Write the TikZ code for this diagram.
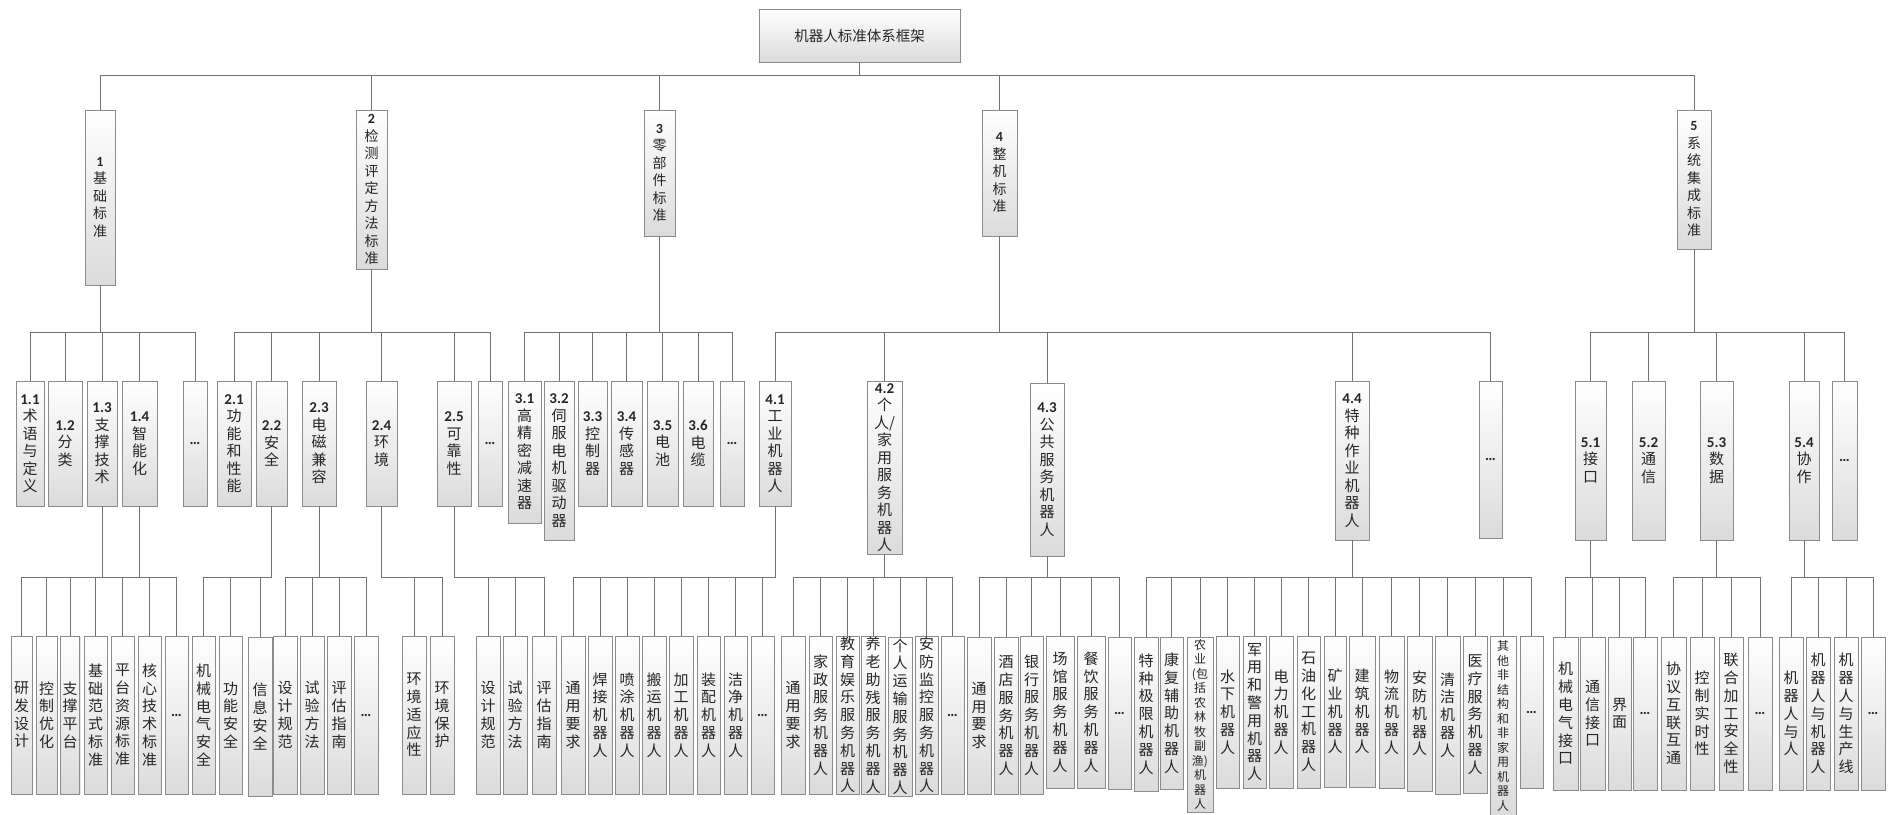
\documentclass[tikz,border=0pt]{standalone}
\usepackage{fontspec}
\setmainfont{Noto Sans CJK SC}
\newfontfamily\numfont{Carlito}
\newcommand{\nb}[1]{{\numfont\bfseries #1}}
\usetikzlibrary{shadows}

\begin{document}
\begin{tikzpicture}[x=1pt,y=-1pt]%
\useasboundingbox (0,0) rectangle (1890,814);
\tikzstyle{box}=[draw=black!45,line width=.8pt,top color=white,bottom color=black!14,inner sep=0pt,align=center,text=black!85,drop shadow={shadow xshift=1pt,shadow yshift=-1pt,opacity=.2}]
\tikzstyle{lvla}=[box,font=\fontsize{14}{17.5}\selectfont]
\tikzstyle{lvlb}=[box,minimum height=125,font=\fontsize{15}{17.5}\selectfont]
\tikzstyle{leaf}=[box,minimum width=23,minimum height=158,font=\fontsize{15}{17.8}\selectfont]
\tikzstyle{link}=[draw=black!55,line width=1pt]
% root
\node[box,minimum width=201,minimum height=53,font=\fontsize{14.5}{17}\selectfont] (root) at (859.5,35.5) {机器人标准体系框架}; %%
% level 1
\node[lvla,minimum width=30,minimum height=175] (n1) at (100,197.5) {\nb{1}\\基\\础\\标\\准}; %%
\node[lvla,minimum width=31,minimum height=159] (n2) at (371.5,189.5) {\nb{2}\\检\\测\\评\\定\\方\\法\\标\\准}; %%
\node[lvla,minimum width=31,minimum height=126] (n3) at (659.5,173) {\nb{3}\\零\\部\\件\\标\\准}; %%
\node[lvla,minimum width=35,minimum height=126] (n4) at (999.5,173) {\nb{4}\\整\\机\\标\\准}; %%
\node[lvla,minimum width=34,minimum height=139] (n5) at (1694,179.5) {\nb{5}\\系\\统\\集\\成\\标\\准}; %%
% level 2
\node[lvlb,minimum width=28] (n11) at (30,443.5) {\nb{1.1}\\术\\语\\与\\定\\义}; %%
\node[lvlb,minimum width=34] (n12) at (65,443.5) {\nb{1.2}\\分\\类}; %%
\node[lvlb,minimum width=30] (n13) at (102,443.5) {\nb{1.3}\\支\\撑\\技\\术}; %%
\node[lvlb,minimum width=35] (n14) at (139.5,443.5) {\nb{1.4}\\智\\能\\化}; %%
\node[lvlb,minimum width=24] (n15) at (195,443.5) {\nb{…}}; %%
\node[lvlb,minimum width=34] (n21) at (234,443.5) {\nb{2.1}\\功\\能\\和\\性\\能}; %%
\node[lvlb,minimum width=31] (n22) at (271.5,443.5) {\nb{2.2}\\安\\全}; %%
\node[lvlb,minimum width=34] (n23) at (319,443.5) {\nb{2.3}\\电\\磁\\兼\\容}; %%
\node[lvlb,minimum width=31] (n24) at (381.5,443.5) {\nb{2.4}\\环\\境}; %%
\node[lvlb,minimum width=34] (n25) at (454,443.5) {\nb{2.5}\\可\\靠\\性}; %%
\node[lvlb,minimum width=24] (n26) at (490,443.5) {\nb{…}}; %%
\node[lvlb,minimum width=33,minimum height=142] (n31) at (524.5,452) {\nb{3.1}\\高\\精\\密\\减\\速\\器}; %%
\node[lvlb,minimum width=30,minimum height=159] (n32) at (559,460.5) {\nb{3.2}\\伺\\服\\电\\机\\驱\\动\\器}; %%
\node[lvlb,minimum width=29] (n33) at (592.5,443.5) {\nb{3.3}\\控\\制\\器}; %%
\node[lvlb,minimum width=31] (n34) at (626.5,443.5) {\nb{3.4}\\传\\感\\器}; %%
\node[lvlb,minimum width=31] (n35) at (662.5,443.5) {\nb{3.5}\\电\\池}; %%
\node[lvlb,minimum width=30] (n36) at (698,443.5) {\nb{3.6}\\电\\缆}; %%
\node[lvlb,minimum width=24] (n37) at (732,443.5) {\nb{…}}; %%
\node[lvlb,minimum width=32] (n41) at (775,443.5) {\nb{4.1}\\工\\业\\机\\器\\人}; %%
\node[lvlb,minimum width=35,minimum height=173] (n42) at (884.5,467.5) {\nb{4.2}\\个\\人/\\家\\用\\服\\务\\机\\器\\人}; %%
\node[lvlb,minimum width=34,minimum height=173] (n43) at (1047,469.5) {\nb{4.3}\\公\\共\\服\\务\\机\\器\\人}; %%
\node[lvlb,minimum width=34,minimum height=159] (n44) at (1352,460.5) {\nb{4.4}\\特\\种\\作\\业\\机\\器\\人}; %%
\node[lvlb,minimum width=23,minimum height=157] (n45) at (1490.5,459.5) {\nb{…}}; %%
\node[lvlb,minimum width=31,minimum height=159] (n51) at (1590.5,460.5) {\nb{5.1}\\接\\口}; %%
\node[lvlb,minimum width=33,minimum height=159] (n52) at (1648.5,460.5) {\nb{5.2}\\通\\信}; %%
\node[lvlb,minimum width=33,minimum height=159] (n53) at (1716.5,460.5) {\nb{5.3}\\数\\据}; %%
\node[lvlb,minimum width=30,minimum height=159] (n54) at (1804,460.5) {\nb{5.4}\\协\\作}; %%
\node[lvlb,minimum width=25,minimum height=159] (n55) at (1844.5,460.5) {\nb{…}}; %%
% level 3
\node[leaf,minimum width=21] (l131) at (21.5,715) {研\\发\\设\\计}; %%
\node[leaf,minimum width=21] (l132) at (46.5,715) {控\\制\\优\\化}; %%
\node[leaf,minimum width=19] (l133) at (70,715) {支\\撑\\平\\台}; %%
\node[leaf] (l141) at (95.5,715) {基\\础\\范\\式\\标\\准}; %%
\node[leaf] (l142) at (122.5,715) {平\\台\\资\\源\\标\\准}; %%
\node[leaf] (l143) at (149.5,715) {核\\心\\技\\术\\标\\准}; %%
\node[leaf] (l144) at (176.5,715) {\nb{…}}; %%
\node[leaf] (l221) at (203.5,715) {机\\械\\电\\气\\安\\全}; %%
\node[leaf] (l222) at (230.5,715) {功\\能\\安\\全}; %%
\node[leaf,minimum width=24,minimum height=159] (l223) at (260,716.5) {信\\息\\安\\全}; %%
\node[leaf,minimum width=24] (l231) at (285,715) {设\\计\\规\\范}; %%
\node[leaf,minimum width=24] (l232) at (312,715) {试\\验\\方\\法}; %%
\node[leaf,minimum width=24] (l233) at (339,715) {评\\估\\指\\南}; %%
\node[leaf,minimum width=24] (l234) at (366,715) {\nb{…}}; %%
\node[leaf,minimum width=24] (l241) at (414,715) {环\\境\\适\\应\\性}; %%
\node[leaf,minimum width=24] (l242) at (442,715) {环\\境\\保\\护}; %%
\node[leaf,minimum width=24] (l251) at (488,715) {设\\计\\规\\范}; %%
\node[leaf,minimum width=24] (l252) at (515,715) {试\\验\\方\\法}; %%
\node[leaf,minimum width=24] (l253) at (544,715) {评\\估\\指\\南}; %%
\node[leaf,minimum width=24] (l411) at (573,715) {通\\用\\要\\求}; %%
\node[leaf,minimum width=24] (l412) at (600,715) {焊\\接\\机\\器\\人}; %%
\node[leaf,minimum width=24] (l413) at (627,715) {喷\\涂\\机\\器\\人}; %%
\node[leaf,minimum width=24] (l414) at (654,715) {搬\\运\\机\\器\\人}; %%
\node[leaf,minimum width=24] (l415) at (681,715) {加\\工\\机\\器\\人}; %%
\node[leaf] (l416) at (708.5,715) {装\\配\\机\\器\\人}; %%
\node[leaf] (l417) at (735.5,715) {洁\\净\\机\\器\\人}; %%
\node[leaf] (l418) at (762.5,715) {\nb{…}}; %%
\node[leaf,minimum width=24] (l421) at (793,715) {通\\用\\要\\求}; %%
\node[leaf] (l422) at (820.5,715) {家\\政\\服\\务\\机\\器\\人}; %%
\node[leaf] (l423) at (847.5,715) {教\\育\\娱\\乐\\服\\务\\机\\器\\人}; %%
\node[leaf,minimum width=24] (l424) at (873,715) {养\\老\\助\\残\\服\\务\\机\\器\\人}; %%
\node[leaf,minimum width=24,minimum height=159] (l425) at (900,716.5) {个\\人\\运\\输\\服\\务\\机\\器\\人}; %%
\node[leaf] (l426) at (926.5,715) {安\\防\\监\\控\\服\\务\\机\\器\\人}; %%
\node[leaf] (l427) at (952.5,715) {\nb{…}}; %%
\node[leaf,minimum width=24,minimum height=157] (l431) at (979,715.5) {通\\用\\要\\求}; %%
\node[leaf,minimum width=24,minimum height=157] (l432) at (1006,715.5) {酒\\店\\服\\务\\机\\器\\人}; %%
\node[leaf] (l433) at (1031.5,715) {银\\行\\服\\务\\机\\器\\人}; %%
\node[leaf,minimum width=28,minimum height=152] (l434) at (1060,712) {场\\馆\\服\\务\\机\\器\\人}; %%
\node[leaf,minimum width=28,minimum height=152] (l435) at (1091,712) {餐\\饮\\服\\务\\机\\器\\人}; %%
\node[leaf,minimum height=152] (l436) at (1119.5,713) {\nb{…}}; %%
\node[leaf,minimum width=24,minimum height=154] (l441) at (1146,714) {特\\种\\极\\限\\机\\器\\人}; %%
\node[leaf,minimum height=152] (l442) at (1171.5,713) {康\\复\\辅\\助\\机\\器\\人}; %%
\node[leaf,minimum width=26,minimum height=175,font=\fontsize{12}{14.5}\selectfont] (l443) at (1200,724.5) {农\\业\\(包\\括\\农\\林\\牧\\副\\渔)\\机\\器\\人}; %%
\node[leaf,minimum height=152] (l444) at (1227.5,712) {水\\下\\机\\器\\人}; %%
\node[leaf,minimum height=152] (l445) at (1254.5,712) {军\\用\\和\\警\\用\\机\\器\\人}; %%
\node[leaf,minimum width=24,minimum height=152] (l446) at (1281,712) {电\\力\\机\\器\\人}; %%
\node[leaf,minimum height=152] (l447) at (1308.5,712) {石\\油\\化\\工\\机\\器\\人}; %%
\node[leaf,minimum width=22,minimum height=151] (l448) at (1335,711.5) {矿\\业\\机\\器\\人}; %%
\node[leaf,minimum width=26,minimum height=151] (l449) at (1362,711.5) {建\\筑\\机\\器\\人}; %%
\node[leaf,minimum width=25,minimum height=152] (l4410) at (1391.5,712) {物\\流\\机\\器\\人}; %%
\node[leaf,minimum width=25,minimum height=155] (l4411) at (1419.5,713.5) {安\\防\\机\\器\\人}; %%
\node[leaf,minimum width=25] (l4412) at (1447.5,715) {清\\洁\\机\\器\\人}; %%
\node[leaf,minimum width=24,minimum height=157] (l4413) at (1475,714.5) {医\\疗\\服\\务\\机\\器\\人}; %%
\node[leaf,minimum width=26,minimum height=180,font=\fontsize{12}{14.5}\selectfont] (l4414) at (1503,726) {其\\他\\非\\结\\构\\和\\非\\家\\用\\机\\器\\人}; %%
\node[leaf,minimum height=152] (l4415) at (1531.5,712) {\nb{…}}; %%
\node[leaf,minimum width=25,minimum height=153] (l511) at (1565.5,713.5) {机\\械\\电\\气\\接\\口}; %%
\node[leaf,minimum width=25,minimum height=153] (l512) at (1592.5,713.5) {通\\信\\接\\口}; %%
\node[leaf,minimum height=153] (l513) at (1619.5,713.5) {界\\面}; %%
\node[leaf,minimum width=24,minimum height=153] (l514) at (1645,713.5) {\nb{…}}; %%
\node[leaf,minimum width=25,minimum height=153] (l531) at (1673.5,713.5) {协\\议\\互\\联\\互\\通}; %%
\node[leaf,minimum width=24,minimum height=153] (l532) at (1702,713.5) {控\\制\\实\\时\\性}; %%
\node[leaf,minimum width=24,minimum height=153] (l533) at (1731,713.5) {联\\合\\加\\工\\安\\全\\性}; %%
\node[leaf,minimum width=24,minimum height=153] (l534) at (1760,713.5) {\nb{…}}; %%
\node[leaf,minimum width=24,minimum height=153] (l541) at (1791,713.5) {机\\器\\人\\与\\人}; %%
\node[leaf,minimum width=24,minimum height=153] (l542) at (1818,713.5) {机\\器\\人\\与\\机\\器\\人}; %%
\node[leaf,minimum width=24,minimum height=153] (l543) at (1846,713.5) {机\\器\\人\\与\\生\\产\\线}; %%
\node[leaf,minimum width=24,minimum height=153] (l544) at (1873,713.5) {\nb{…}}; %%
% connectors
\foreach \ch in {n1,n2,n3,n4,n5} \draw[link] (root.south) -- (root.south |- 0,75) -| (\ch.north); %%
\foreach \ch in {n11,n12,n13,n14,n15} \draw[link] (n1.south) -- (n1.south |- 0,332) -| (\ch.north); %%
\foreach \ch in {n21,n22,n23,n24,n25,n26} \draw[link] (n2.south) -- (n2.south |- 0,332) -| (\ch.north); %%
\foreach \ch in {n31,n32,n33,n34,n35,n36,n37} \draw[link] (n3.south) -- (n3.south |- 0,332) -| (\ch.north); %%
\foreach \ch in {n41,n42,n43,n44,n45} \draw[link] (n4.south) -- (n4.south |- 0,332) -| (\ch.north); %%
\foreach \ch in {n51,n52,n53,n54,n55} \draw[link] (n5.south) -- (n5.south |- 0,332) -| (\ch.north); %%
\foreach \ch in {l131,l132,l133} \draw[link] (n13.south) -- (n13.south |- 0,577) -| (\ch.north); %%
\foreach \ch in {l141,l142,l143,l144} \draw[link] (n14.south) -- (n14.south |- 0,577) -| (\ch.north); %%
\foreach \ch in {l221,l222,l223} \draw[link] (n22.south) -- (n22.south |- 0,577) -| (\ch.north); %%
\foreach \ch in {l231,l232,l233,l234} \draw[link] (n23.south) -- (n23.south |- 0,577) -| (\ch.north); %%
\foreach \ch in {l241,l242} \draw[link] (n24.south) -- (n24.south |- 0,577) -| (\ch.north); %%
\foreach \ch in {l251,l252,l253} \draw[link] (n25.south) -- (n25.south |- 0,577) -| (\ch.north); %%
\foreach \ch in {l411,l412,l413,l414,l415,l416,l417,l418} \draw[link] (n41.south) -- (n41.south |- 0,577) -| (\ch.north); %%
\foreach \ch in {l421,l422,l423,l424,l425,l426,l427} \draw[link] (n42.south) -- (n42.south |- 0,577) -| (\ch.north); %%
\foreach \ch in {l431,l432,l433,l434,l435,l436} \draw[link] (n43.south) -- (n43.south |- 0,577) -| (\ch.north); %%
\foreach \ch in {l441,l442,l443,l444,l445,l446,l447,l448,l449,l4410,l4411,l4412,l4413,l4414,l4415} \draw[link] (n44.south) -- (n44.south |- 0,577) -| (\ch.north); %%
\foreach \ch in {l511,l512,l513,l514} \draw[link] (n51.south) -- (n51.south |- 0,577) -| (\ch.north); %%
\foreach \ch in {l531,l532,l533,l534} \draw[link] (n53.south) -- (n53.south |- 0,577) -| (\ch.north); %%
\foreach \ch in {l541,l542,l543,l544} \draw[link] (n54.south) -- (n54.south |- 0,577) -| (\ch.north); %%
\end{tikzpicture}
\end{document}
